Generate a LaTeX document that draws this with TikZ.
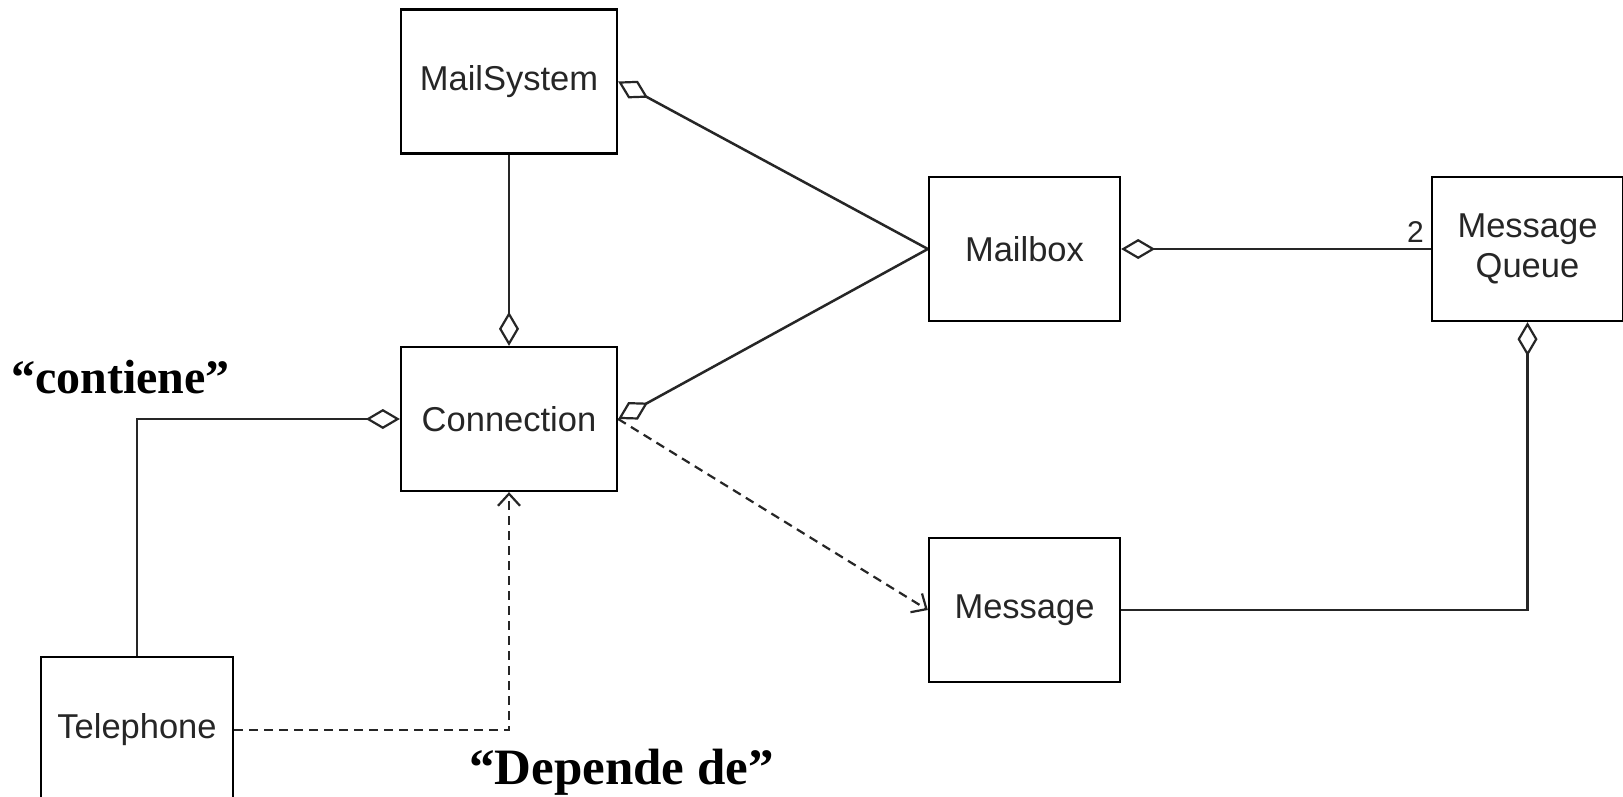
\documentclass[tikz,border=0pt]{standalone}
\usepackage{fontspec}
\setmainfont{Liberation Sans}
\newfontfamily\quotefont{Liberation Serif}
\usetikzlibrary{arrows.meta}
\tikzset{
  classbox/.style={draw, line width=2.3pt, inner sep=0pt, minimum height=144pt,
    font=\fontsize{34.5}{40}\selectfont, align=center, text=black!85},
  assoc/.style={line width=2.5pt, draw=black!85},
  agg/.style={assoc, -{Diamond[fill=white, length=34pt, width=20pt, line width=2.2pt]}},
  dep/.style={line width=2.2pt, draw=black!85, dash pattern=on 9pt off 6pt,
    -{Straight Barb[length=12pt, width=22pt, line width=2.2pt]}},
  note/.style={font=\quotefont\bfseries\fontsize{48}{50}\selectfont, inner sep=0pt}
}
\begin{document}
\begin{tikzpicture}[x=1pt,y=-1pt]
\useasboundingbox[fill=white] (0,0) rectangle (1623,797);
% classes
\node[classbox, minimum width=216pt] (ms) at (509,81.5) {MailSystem};
\node[classbox, minimum width=216pt] (conn) at (509,419) {Connection};
\node[classbox, minimum width=191pt] (mb) at (1024.5,249) {Mailbox};
\node[classbox, minimum width=191pt] (mq) at (1527.5,249) {Message\\Queue};
\node[classbox, minimum width=191pt] (msg) at (1024.5,610) {Message};
\node[classbox, minimum width=192pt, minimum height=146pt] (tel) at (137,730) {Telephone};
% connectors
\draw[agg] (mb.west) -- (ms.east);
\draw[agg] (ms.south) -- (conn.north);
\draw[agg] (mb.west) -- (conn.east);
\draw[agg] (tel.north) |- (conn.west);
\draw[dep] (tel.east) -| (conn.south);
\draw[dep] (conn.east) -- (msg.west);
\draw[agg] (mq.west) -- (mb.east);
\draw[agg] (msg.east) -| (mq.south);
% multiplicity
\node[font=\fontsize{30}{30}\selectfont, anchor=base east, inner sep=0pt, text=black!85] (two) at (1424,242) {2};
% annotations
\node[note, anchor=base west] (contiene) at (11,393) {“contiene”};
\node[note, anchor=base west, font=\quotefont\bfseries\fontsize{51}{54}\selectfont] (depende) at (469,784) {“Depende de”};
\end{tikzpicture}
\end{document}
